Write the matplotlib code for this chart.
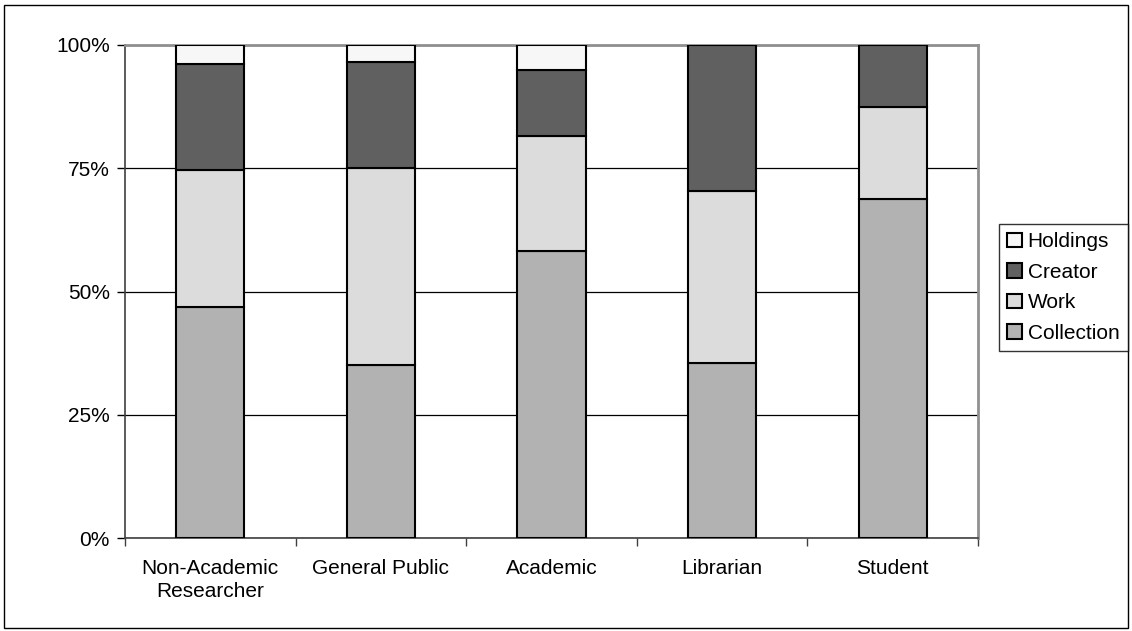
import matplotlib

matplotlib.use("Agg")
import matplotlib.pyplot as plt
import numpy as np
from matplotlib.patches import Rectangle
from matplotlib.ticker import FixedLocator, PercentFormatter

plt.rcParams["font.family"] = ["Liberation Sans", "DejaVu Sans"]

# share of searches by entry point, per user group (percent)
groups = ["Non-Academic\nResearcher", "General Public", "Academic", "Librarian", "Student"]
collection = [46.9, 35.1, 58.3, 35.4, 68.7]
work = [27.7, 39.9, 23.2, 35.0, 18.7]
creator = [21.5, 21.5, 13.4, 29.6, 12.6]
holdings = [3.9, 3.5, 5.1, 0.0, 0.0]

series = [
    ("Collection", collection, "#b2b2b2"),
    ("Work", work, "#dcdcdc"),
    ("Creator", creator, "#606060"),
    ("Holdings", holdings, "#f7f7f7"),
]

fig = plt.figure(figsize=(11.32, 6.31), dpi=100)
ax = fig.add_axes([125 / 1132, 1 - 538 / 631, (978 - 125) / 1132, (538 - 45) / 631])

x = np.arange(len(groups))
bottom = np.zeros(len(groups))
handles = []
for name, vals, color in series:
    vals = np.array(vals)
    bars = ax.bar(x, vals, bottom=bottom, width=0.4, color=color,
                  edgecolor="black", linewidth=1.5, label=name, zorder=3)
    handles.append(bars)
    bottom += vals

ax.set_xlim(-0.5, len(groups) - 0.5)
ax.set_ylim(0, 100)
ax.yaxis.set_major_locator(FixedLocator([0, 25, 50, 75, 100]))
ax.yaxis.set_major_formatter(PercentFormatter(decimals=0))
ax.grid(axis="y", color="black", linewidth=0.9, zorder=0)
ax.set_axisbelow(True)

# category labels centred, tick marks between categories
ax.set_xticks(x)
ax.set_xticklabels(groups, linespacing=1.3)
ax.tick_params(axis="x", length=0, pad=15, labelsize=15)
ax.set_xticks(np.arange(len(groups) + 1) - 0.5, minor=True)
ax.tick_params(axis="x", which="minor", length=6, width=1, color="#404040")
ax.tick_params(axis="y", length=6, width=1, pad=5, labelsize=15)

for side in ("top", "right"):
    ax.spines[side].set_color("#909090")
    ax.spines[side].set_linewidth(2)
ax.spines["left"].set_color("#404040")
ax.spines["bottom"].set_color("#404040")
ax.spines["left"].set_linewidth(1.2)
ax.spines["bottom"].set_linewidth(1.2)

leg = fig.legend(handles[::-1], [s[0] for s in series][::-1],
                 loc="upper left", bbox_to_anchor=(999 / 1132, 1 - 224 / 631),
                 fontsize=15, frameon=True, fancybox=False, edgecolor="black",
                 handlelength=0.72, handleheight=0.72, handletextpad=0.25,
                 labelspacing=0.55, borderpad=0.4, borderaxespad=0)
leg.get_frame().set_linewidth(1.0)
for patch in leg.get_patches():
    patch.set_linewidth(1.5)

# outer chart frame
fig.patches.append(Rectangle((4 / 1132, 3 / 631), 1 - 8 / 1132, 1 - 8 / 631,
                             transform=fig.transFigure, fill=False,
                             edgecolor="black", linewidth=1.0))

fig.savefig("out.png", dpi=100)
plt.close(fig)
